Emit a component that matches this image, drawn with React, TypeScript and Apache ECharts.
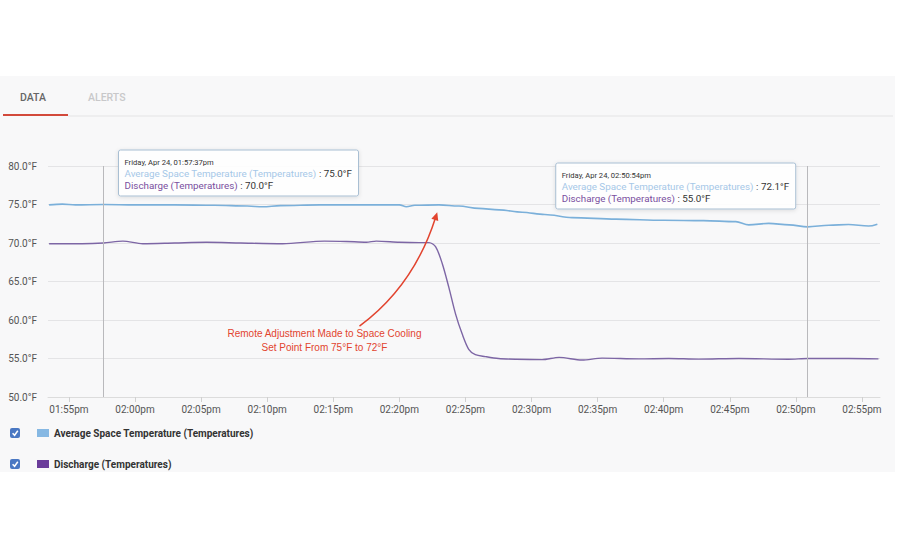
import { useEffect, useRef } from "react";
import * as echarts from "echarts";

// Readings for Friday, Apr 24 (24h clock "HH:MM:SS", °F)
const seriesNames = ["Average Space Temperature (Temperatures)", "Discharge (Temperatures)"];

const avgSpaceTemp: [string, number][] = [
  ["13:53:30", 74.95], ["13:54:30", 75.05], ["13:55:30", 74.95], ["13:57:37", 75.0],
  ["14:00:00", 74.95], ["14:03:00", 74.95], ["14:06:00", 74.9], ["14:08:30", 74.8],
  ["14:09:40", 74.7], ["14:11:00", 74.85], ["14:14:00", 74.95], ["14:17:00", 74.95],
  ["14:20:00", 74.95], ["14:20:32", 74.7], ["14:21:10", 74.9], ["14:23:00", 74.95],
  ["14:24:30", 74.8], ["14:26:00", 74.5], ["14:27:33", 74.3], ["14:29:17", 74.0],
  ["14:31:00", 73.7], ["14:33:04", 73.3], ["14:36:23", 73.1], ["14:40:00", 72.95],
  ["14:43:00", 72.9], ["14:45:27", 72.77], ["14:46:26", 72.35], ["14:47:57", 72.55],
  ["14:49:30", 72.35], ["14:50:54", 72.1], ["14:52:30", 72.3], ["14:53:59", 72.4],
  ["14:55:30", 72.2], ["14:56:10", 72.45],
];

const dischargeTemp: [string, number][] = [
  ["13:53:30", 69.9], ["13:56:00", 69.9], ["13:57:37", 70.0], ["13:59:05", 70.25],
  ["14:00:35", 69.9], ["14:03:00", 70.0], ["14:05:25", 70.1], ["14:08:00", 70.0],
  ["14:11:10", 69.9], ["14:14:20", 70.25], ["14:16:00", 70.2], ["14:17:30", 70.1],
  ["14:18:15", 70.25], ["14:20:00", 70.1], ["14:21:30", 70.05], ["14:22:15", 70.05],
  ["14:22:45", 69.5], ["14:23:15", 67.3], ["14:23:45", 64.2], ["14:24:15", 60.8],
  ["14:24:45", 58.2], ["14:25:15", 56.2], ["14:25:45", 55.5], ["14:26:30", 55.25],
  ["14:27:30", 55.0], ["14:28:50", 54.9], ["14:30:48", 54.85], ["14:32:05", 55.15],
  ["14:33:49", 54.8], ["14:35:20", 55.05], ["14:38:07", 54.95], ["14:40:23", 55.0],
  ["14:42:39", 54.92], ["14:45:41", 55.0], ["14:49:27", 54.9], ["14:50:54", 55.0],
  ["14:53:59", 55.0], ["14:56:15", 54.95],
];

const tickTimes = [
  "13:55:00", "14:00:00", "14:05:00", "14:10:00", "14:15:00", "14:20:00", "14:25:00",
  "14:30:00", "14:35:00", "14:40:00", "14:45:00", "14:50:00", "14:55:00",
];
const axisStart = "13:53:25";
const axisEnd = "14:56:22";
const yMin = 50;
const yMax = 80;
const yStep = 5;

// Hover readouts pinned at these instants
const markerTimes = ["13:57:37", "14:50:54"];

// Callout
const calloutLines = ["Remote Adjustment Made to Space Cooling", "Set Point From 75°F to 72°F"];
const calloutText: [string, number] = ["14:14:20", 57.4];
const arrowTail: [string, number] = ["14:16:59", 59.2];
const arrowBend: [string, number] = ["14:21:05", 64.4];
const arrowHead: [string, number] = ["14:22:52", 74.0];

const tabs = ["DATA", "ALERTS"];

const COLORS = {
  avgLine: "#7bb0da",
  disLine: "#7d66a5",
  avgKey: "#86b8e3",
  disKey: "#6a3c9a",
  avgText: "#a6c8e8",
  disText: "#7a4f9e",
  red: "#e2442f",
};

const ts = (hms: string) => {
  const [h, m, s] = hms.split(":").map(Number);
  return new Date(2020, 3, 24, h, m, s).getTime();
};
const pad = (n: number) => String(n).padStart(2, "0");
const clock = (t: number, withSeconds: boolean) => {
  const d = new Date(t);
  const h = d.getHours() % 12 || 12;
  const ampm = d.getHours() >= 12 ? "pm" : "am";
  return `${pad(h)}:${pad(d.getMinutes())}${withSeconds ? ":" + pad(d.getSeconds()) : ""}${ampm}`;
};
const DAYS = ["Sunday", "Monday", "Tuesday", "Wednesday", "Thursday", "Friday", "Saturday"];
const MONTHS = ["Jan", "Feb", "Mar", "Apr", "May", "Jun", "Jul", "Aug", "Sep", "Oct", "Nov", "Dec"];
const longStamp = (t: number) => {
  const d = new Date(t);
  return `${DAYS[d.getDay()]}, ${MONTHS[d.getMonth()]} ${d.getDate()}, ${clock(t, true)}`;
};
const fmtF = (v: number) => `${v.toFixed(1)}°F`;
const valueAt = (rows: [string, number][], hms: string) => rows.find((r) => r[0] === hms)![1];

export default function App() {
  const ref = useRef<HTMLDivElement>(null);

  useEffect(() => {
    if (!ref.current) return;
    const chart = echarts.init(ref.current, undefined, { renderer: "svg" });
    const font = "Roboto, 'Noto Sans', sans-serif";
    const tickValues = tickTimes.map(ts);

    chart.setOption({
      animation: false,
      backgroundColor: "#ffffff",
      textStyle: { fontFamily: font },
      grid: { left: 48, right: 20, top: 166, bottom: 153, containLabel: false },
      xAxis: {
        type: "value",
        min: ts(axisStart),
        max: ts(axisEnd),
        axisLine: { lineStyle: { color: "#dcdcdc" } },
        axisTick: {
          show: true,
          length: 5,
          lineStyle: { color: "#d0d0d0" },
          customValues: tickValues,
        },
        axisLabel: {
          customValues: tickValues,
          formatter: (v: number) => clock(v, false),
          color: "#555",
          fontSize: 10,
          margin: 7,
          fontFamily: font,
        },
        splitLine: { show: false },
      },
      yAxis: {
        type: "value",
        min: yMin,
        max: yMax,
        interval: yStep,
        axisLine: { show: false },
        axisTick: { show: false },
        axisLabel: {
          formatter: (v: number) => fmtF(v),
          color: "#555",
          fontSize: 10,
          margin: 11,
          fontFamily: font,
        },
        splitLine: { lineStyle: { color: "#e4e4e6", width: 1 } },
      },
      legend: {
        orient: "vertical",
        left: 37,
        top: 427,
        padding: 0,
        itemWidth: 12,
        itemHeight: 8,
        itemGap: 19,
        icon: "rect",
        selectedMode: false,
        textStyle: { fontSize: 10, fontWeight: "bold", color: "#333", fontFamily: font, lineHeight: 12 },
        data: [
          { name: seriesNames[0], itemStyle: { color: COLORS.avgKey } },
          { name: seriesNames[1], itemStyle: { color: COLORS.disKey } },
        ],
      },
      series: [
        {
          name: seriesNames[0],
          type: "line",
          data: avgSpaceTemp.map(([t, v]) => [ts(t), v]),
          smooth: 0.35,
          smoothMonotone: "x",
          showSymbol: false,
          color: COLORS.avgLine,
          lineStyle: { width: 1.6, color: COLORS.avgLine },
          z: 3,
          markLine: {
            silent: true,
            symbol: "none",
            label: { show: false },
            lineStyle: { color: "#b9b9bc", width: 1, type: "solid" },
            data: markerTimes.map((t) => ({ xAxis: ts(t) })),
          },
        },
        {
          name: seriesNames[1],
          type: "line",
          data: dischargeTemp.map(([t, v]) => [ts(t), v]),
          smooth: 0.3,
          showSymbol: false,
          color: COLORS.disLine,
          lineStyle: { width: 1.4, color: COLORS.disLine },
          z: 3,
        },
      ],
    });

    const px = (p: [string, number]) =>
      chart.convertToPixel({ gridIndex: 0 }, [ts(p[0]), p[1]]) as number[];

    const graphics: any[] = [];

    // panel backdrop and tab strip
    graphics.push({
      type: "rect",
      z: -100,
      shape: { x: 0, y: 76, width: 895, height: 396 },
      style: { fill: "#f8f8f9" },
      silent: true,
    });
    graphics.push({
      type: "rect",
      shape: { x: 68, y: 115.5, width: 825, height: 1 },
      style: { fill: "#e3e3e5" },
      silent: true,
    });
    graphics.push({
      type: "rect",
      shape: { x: 3, y: 114, width: 65, height: 2 },
      style: { fill: "#d2493b" },
      silent: true,
    });
    graphics.push({
      type: "text",
      x: 20,
      y: 97,
      style: { text: tabs[0], fill: "#666", font: `500 10.5px ${font}`, verticalAlign: "middle" },
      silent: true,
    });
    graphics.push({
      type: "text",
      x: 88,
      y: 97,
      style: { text: tabs[1], fill: "#c8c8ca", font: `500 10.5px ${font}`, verticalAlign: "middle" },
      silent: true,
    });

    // checkboxes beside the legend keys
    [428, 459].forEach((top) => {
      graphics.push({
        type: "rect",
        shape: { x: 10, y: top, width: 10, height: 10, r: 2 },
        style: { fill: "#4a78c3" },
        silent: true,
      });
      graphics.push({
        type: "polyline",
        shape: { points: [[12.6, top + 5.2], [14.6, top + 7.3], [17.8, top + 2.8]] },
        style: { stroke: "#fff", lineWidth: 1.5, fill: null },
        silent: true,
      });
    });

    // pinned readouts
    const boxW = 240;
    const boxH = 46;
    markerTimes.forEach((t, i) => {
      const [lx] = px([t, yMax]);
      const left = i === 0 ? lx + 15 : lx - 12 - boxW;
      const top = i === 0 ? 150 : 163;
      const avg = valueAt(avgSpaceTemp, t);
      const dis = valueAt(dischargeTemp, t);
      graphics.push({
        type: "group",
        x: left,
        y: top,
        z: 50,
        silent: true,
        children: [
          {
            type: "rect",
            shape: { x: 0, y: 0, width: boxW, height: boxH, r: 2 },
            style: {
              fill: "rgba(255,255,255,0.92)",
              stroke: "#a9bfd3",
              lineWidth: 1,
              shadowBlur: 4,
              shadowColor: "rgba(0,0,0,0.12)",
              shadowOffsetY: 1,
            },
          },
          {
            type: "text",
            x: 6,
            y: 12,
            style: { text: longStamp(ts(t)), fill: "#333", font: `7.6px ${font}`, verticalAlign: "middle" },
          },
          {
            type: "text",
            x: 6,
            y: 23.5,
            style: {
              text: `{a|${seriesNames[0]}}{v| : ${fmtF(avg)}}`,
              verticalAlign: "middle",
              rich: {
                a: { fill: COLORS.avgText, fontSize: 9.8, fontFamily: font },
                v: { fill: "#333", fontSize: 9.8, fontFamily: font },
              },
            },
          },
          {
            type: "text",
            x: 6,
            y: 35,
            style: {
              text: `{p|${seriesNames[1]}}{v| : ${fmtF(dis)}}`,
              verticalAlign: "middle",
              rich: {
                p: { fill: COLORS.disText, fontSize: 9.8, fontFamily: font },
                v: { fill: "#333", fontSize: 9.8, fontFamily: font },
              },
            },
          },
        ],
      });
    });

    // callout arrow and note
    const [tx, ty] = px(arrowTail);
    const [cx, cy] = px(arrowBend);
    const [hx, hy] = px(arrowHead);
    const dx = hx - cx;
    const dy = hy - cy;
    const len = Math.hypot(dx, dy);
    const ux = dx / len;
    const uy = dy / len;
    const headLen = 8;
    const headHalf = 3.6;
    const bx = hx - ux * headLen;
    const by = hy - uy * headLen;
    graphics.push({
      type: "bezierCurve",
      z: 40,
      silent: true,
      shape: { x1: tx, y1: ty, x2: bx + ux * 2, y2: by + uy * 2, cpx1: cx, cpy1: cy },
      style: { stroke: COLORS.red, lineWidth: 1.5, fill: null },
    });
    graphics.push({
      type: "polygon",
      z: 40,
      silent: true,
      shape: {
        points: [
          [hx, hy],
          [bx - uy * headHalf, by + ux * headHalf],
          [bx + uy * headHalf, by - ux * headHalf],
        ],
      },
      style: { fill: COLORS.red },
    });
    const [nx, ny] = px(calloutText);
    graphics.push({
      type: "text",
      z: 40,
      silent: true,
      x: nx,
      y: ny,
      style: {
        text: calloutLines.join("\n"),
        fill: COLORS.red,
        font: `10px 'Liberation Sans', Arial, sans-serif`,
        align: "center",
        verticalAlign: "middle",
        lineHeight: 14,
      },
    });

    chart.setOption({ graphic: graphics });

    return () => chart.dispose();
  }, []);

  return (
    <div
      ref={ref}
      style={{ position: "absolute", left: 0, top: 0, width: 900, height: 550, background: "#fff" }}
    />
  );
}
